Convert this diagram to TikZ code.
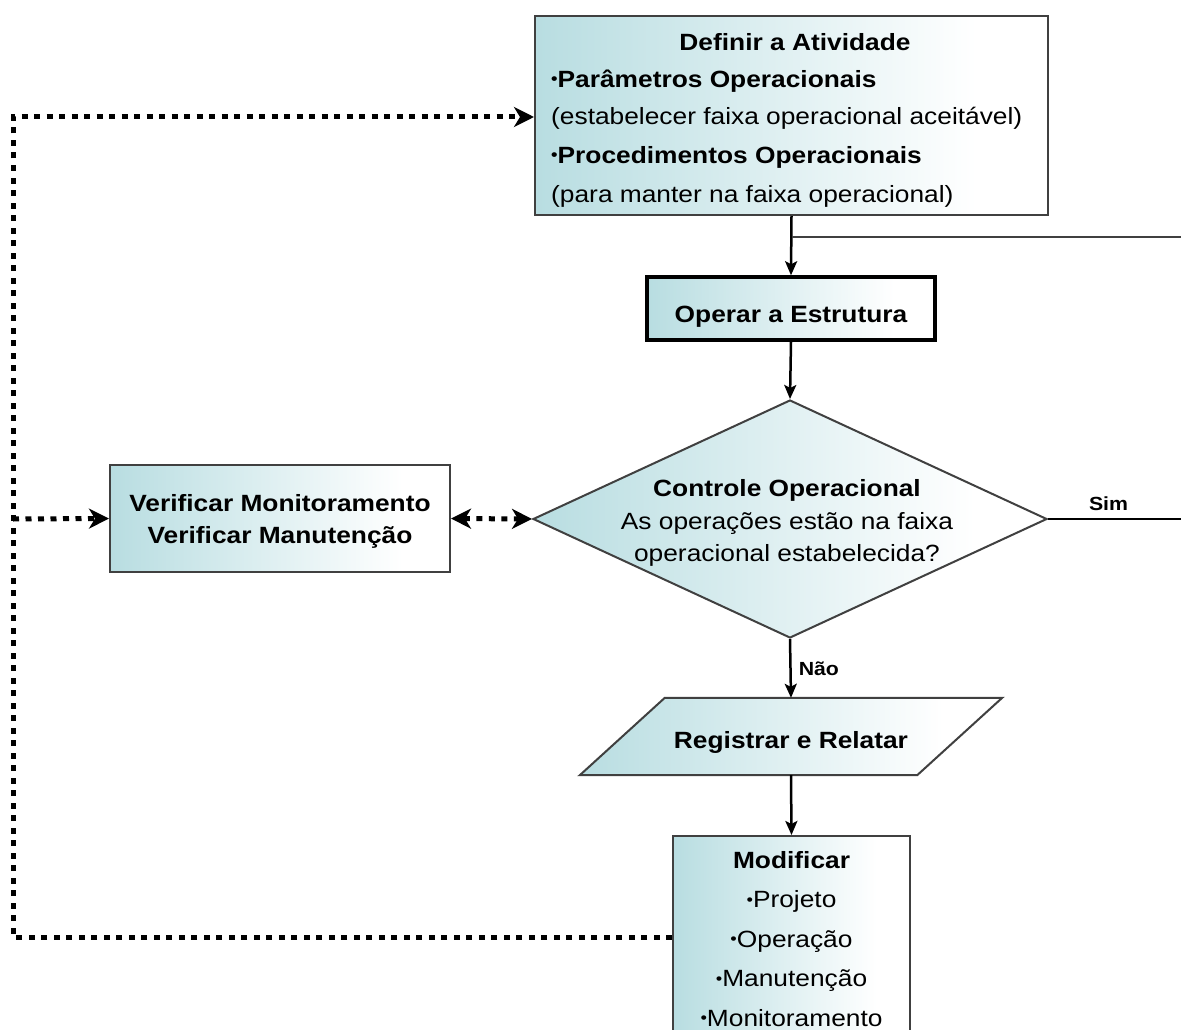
\documentclass[tikz,border=0pt]{standalone}
\usepackage{fontspec}
\setmainfont{Liberation Sans}[FakeStretch=1.12]
\usetikzlibrary{arrows.meta,shapes.geometric,calc,backgrounds}
\definecolor{tealfill}{RGB}{184,221,225}
\definecolor{edge}{RGB}{64,64,64}
\pgfdeclarehorizontalshading{boxshade}{100bp}{color(0bp)=(tealfill); color(25bp)=(tealfill); color(68bp)=(white); color(100bp)=(white)}
\tikzset{dtip/.tip={Stealth[length=20pt,width=20pt,inset=6pt]},
         ftip/.tip={Stealth[length=14pt,width=12pt,inset=3pt]}}
\newcommand{\bul}{\raisebox{2.5pt}{\scalebox{0.7}{•}}}
\begin{document}
\begin{tikzpicture}[x=1pt,y=-1pt,
  rg/.style={font=\fontsize{23.5}{28}\selectfont, inner sep=0pt},
  bd/.style={font=\fontsize{23.5}{28}\selectfont\bfseries, inner sep=0pt},
  boxstyle/.style={draw=edge, line width=2pt, shading=boxshade, rectangle, inner sep=0pt},
  flow/.style={line width=2.5pt, -{ftip}},
  plainline/.style={line width=2pt, draw=edge},
  dots/.style={line width=5pt, dash pattern=on 6pt off 6.5pt},
  lbl/.style={font=\fontsize{19}{22}\selectfont\bfseries, inner sep=0pt}]
\useasboundingbox (0,0) rectangle (1181,1030);
\clip (0,0) rectangle (1181,1030);

% Definir box
\node[boxstyle, minimum width=513pt, minimum height=199pt] (def) at (791.5,115.5) {};
\node[bd] (t1) at (795,42) {Definir a Atividade};
\node[bd, anchor=west] (t2) at (551,81) {\bul Parâmetros Operacionais};
\node[rg, anchor=west] (t3) at (551,118) {(estabelecer faixa operacional aceitável)};
\node[bd, anchor=west] (t4) at (551,157) {\bul Procedimentos Operacionais};
\node[rg, anchor=west] (t5) at (551,196) {(para manter na faixa operacional)};

% Operar
\node[boxstyle, draw=black, line width=3.5pt, minimum width=288pt, minimum height=63pt, bd, text height=27pt, text depth=0pt] (op) at (791,308.5) {Operar a Estrutura};

% Diamond
\node[diamond, draw=edge, line width=2pt, shading=boxshade, minimum width=514pt, minimum height=238pt, inner sep=0pt] (ctl) at (790,519) {};
\node[align=center, font=\fontsize{23.5}{32.5}\selectfont, inner sep=0pt] (ctltxt) at (787,523) {\textbf{Controle Operacional}\\As operações estão na faixa\\operacional estabelecida?};

% Verificar
\node[boxstyle, minimum width=340pt, minimum height=107pt] (ver) at (280,518.5) {};
\node[align=center, font=\fontsize{23.5}{32}\selectfont\bfseries, inner sep=0pt] (vertxt) at (280,521) {Verificar Monitoramento\\Verificar Manutenção};

% Registrar
\node[bd, minimum width=337pt, minimum height=77pt, text height=24pt, text depth=0pt] (reg) at (791,736.5) {Registrar e Relatar};
\begin{scope}[on background layer]
\draw[draw=edge, line width=2pt, shading=boxshade]
  ($(reg.north west)+(42.5,0)$) -- ($(reg.north east)+(42.5,0)$) --
  ($(reg.south east)+(-42.5,0)$) -- ($(reg.south west)+(-42.5,0)$) -- cycle;
\end{scope}

% Modificar
\node[boxstyle, minimum width=237pt, minimum height=206pt, align=center, font=\fontsize{23.5}{39.5}\selectfont] (mod) at (791.5,939) {\textbf{Modificar}\\\bul Projeto\\\bul Operação\\\bul Manutenção\\\bul Monitoramento};

% coordinates
\coordinate (rt1) at (1181,237);
\coordinate (rt2) at (1181,519);
\coordinate (c1) at (13,937);
\coordinate (c2) at (13,117);
\coordinate (c3) at (13,519);

% solid connectors
\draw[flow] (def.south) -- (op.north);
\draw[plainline] (def.south |- rt1) -- (rt1);
\draw[flow] (op.south) -- (ctl.north);
\draw[plainline, draw=black] (ctl.east) -- node[lbl, above=7pt, pos=0.455] (sim) {Sim} (rt2);
\draw[flow] (ctl.south) -- node[lbl, right=7pt] (nao) {Não} (reg.north);
\draw[flow] (reg.south) -- (mod.north);

% dotted connectors
\draw[dots, -{dtip}] (mod.west |- c1) -- (c1) -- (c2) -- (def.west |- c2);
\draw[dots, -{dtip}] (c3) -- (ver.west);
\draw[dots, {dtip}-{dtip}] (ver.east) -- (ctl.west);
\end{tikzpicture}
\end{document}
